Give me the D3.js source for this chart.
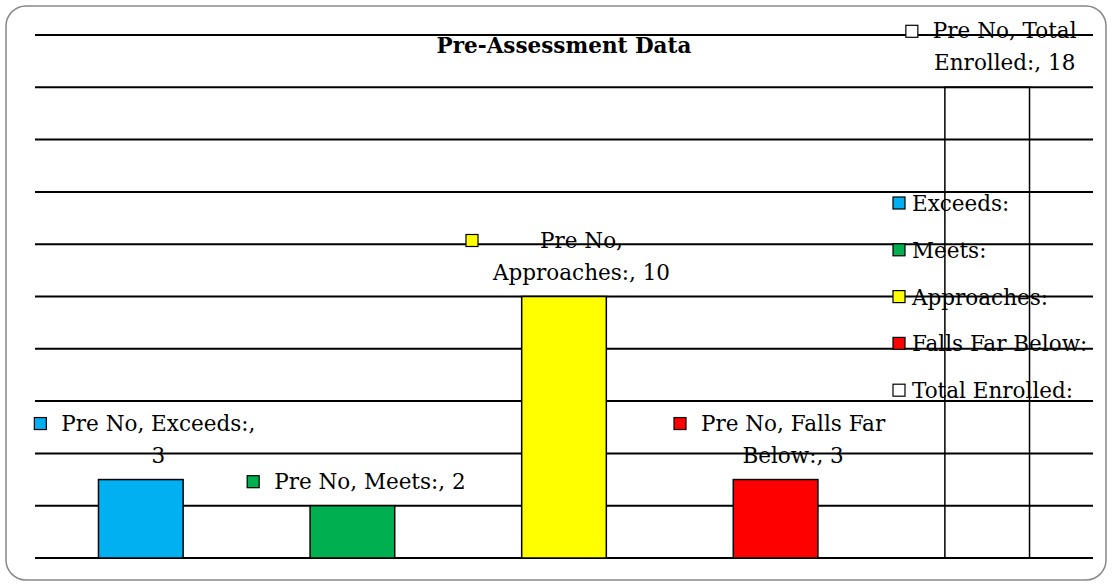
<!DOCTYPE html>
<html>
<head>
<meta charset="utf-8">
<script src="https://cdn.jsdelivr.net/npm/d3@7"></script>
<style>
  body { margin: 0; background: #fff; }
  text { font-family: "DejaVu Serif", serif; }
</style>
</head>
<body>
<div id="chartDiv"></div>
<script>
// data
var categories = ["Exceeds:", "Meets:", "Approaches:", "Falls Far Below:", "Total Enrolled:"];
var values = [3, 2, 10, 3, 18];
var colors = ["#00b0f0", "#00b050", "#ffff00", "#ff0000", "none"];
var seriesName = "Pre No";
var wordsOnFirstLine = [3, 4, 2, 4, 3];
var yTicks = [0, 2, 4, 6, 8, 10, 12, 14, 16, 18, 20];

var W = 1112, H = 586;
var margin = {top: 35, right: 19, bottom: 28, left: 35};
var fontSize = 21.5, lineH = 32;

var svg = d3.select("#chartDiv").append("svg")
    .attr("width", W).attr("height", H);

svg.append("rect")
    .attr("x", 6).attr("y", 6).attr("width", W - 12).attr("height", H - 12)
    .attr("rx", 20).attr("ry", 20)
    .attr("fill", "#fff").attr("stroke", "#888").attr("stroke-width", 1.5);

var x_scale = d3.scaleBand()
    .domain(categories)
    .range([margin.left, W - margin.right])
    .paddingInner(0.6)
    .paddingOuter(0.3);

var y_scale = d3.scaleLinear()
    .domain([0, 20])
    .range([H - margin.bottom, margin.top]);

var chart_svg = svg.append("g");

// gridlines
chart_svg.append("g").selectAll("line").data(yTicks).enter()
  .append("line")
    .attr("x1", margin.left).attr("x2", W - margin.right)
    .attr("y1", function(d){ return y_scale(d); })
    .attr("y2", function(d){ return y_scale(d); })
    .attr("stroke", "#000").attr("stroke-width", 2);

// bars
chart_svg.append("g").selectAll("rect").data(values).enter()
  .append("rect")
    .attr("x", function(d, i){ return x_scale(categories[i]); })
    .attr("y", function(d){ return y_scale(d); })
    .attr("width", x_scale.bandwidth())
    .attr("height", function(d){ return y_scale(0) - y_scale(d); })
    .attr("fill", function(d, i){ return colors[i]; })
    .attr("stroke", "#000").attr("stroke-width", 1.5);

// title
svg.append("text")
    .attr("x", 564).attr("y", 53)
    .attr("text-anchor", "middle")
    .style("font-size", "21.5px").style("font-weight", "bold")
    .text("Pre-Assessment Data");

// data labels
var labels = chart_svg.append("g");
values.forEach(function(v, i){
  var words = (seriesName + ", " + categories[i] + ", " + v).split(" ");
  var lines = [words.slice(0, wordsOnFirstLine[i]).join(" ")];
  if (words.length > wordsOnFirstLine[i]) lines.push(words.slice(wordsOnFirstLine[i]).join(" "));

  var g = labels.append("g");
  var t = g.append("text").style("font-size", fontSize + "px").attr("text-anchor", "middle");
  lines.forEach(function(s, k){
    t.append("tspan").attr("x", 0).attr("y", k * lineH).text(s);
  });
  var bw = d3.max(t.selectAll("tspan").nodes(), function(n){ return n.getComputedTextLength(); });
  var total = 12 + 15 + bw;
  var cx = x_scale(categories[i]) + x_scale.bandwidth() / 2 + 4;
  var left = Math.min(cx - total / 2, W - margin.right - 14 - total);
  var baseline = y_scale(v) - 17 - (lines.length - 1) * lineH;
  g.attr("transform", "translate(" + (left + 27 + bw / 2) + "," + baseline + ")");
  g.append("rect")
    .attr("x", -bw / 2 - 27).attr("y", -13)
    .attr("width", 12).attr("height", 12)
    .attr("fill", colors[i] === "none" ? "#fff" : colors[i])
    .attr("stroke", "#000").attr("stroke-width", 1.2);
});

// legend
var legend = svg.append("g").selectAll("g").data(categories).enter()
  .append("g")
    .attr("transform", function(d, i){ return "translate(893," + (203 + i * 46.8) + ")"; });
legend.append("rect")
    .attr("x", 0).attr("y", -6).attr("width", 12).attr("height", 12)
    .attr("fill", function(d, i){ return colors[i] === "none" ? "#fff" : colors[i]; })
    .attr("stroke", "#000").attr("stroke-width", 1.2);
legend.append("text")
    .attr("x", 19).attr("y", 8)
    .style("font-size", fontSize + "px")
    .text(function(d){ return d; });
</script>
</body>
</html>
